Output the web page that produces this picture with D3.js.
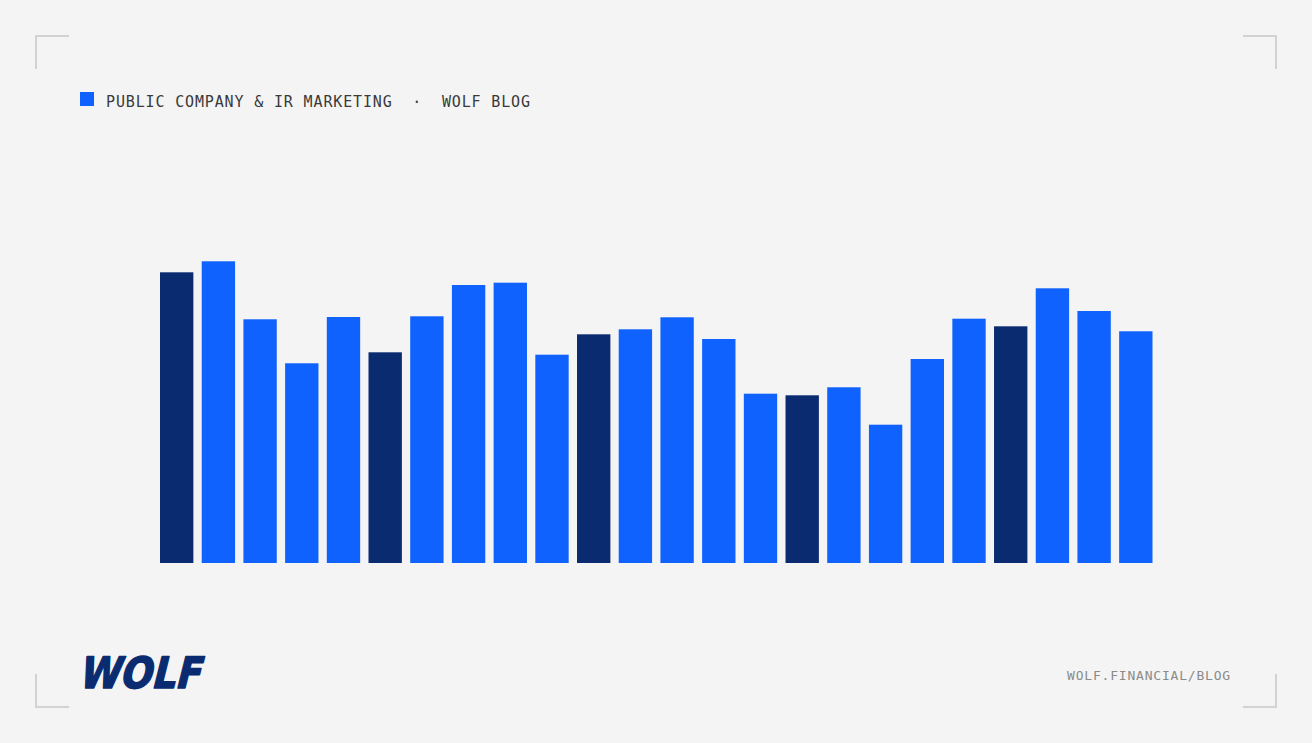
<!DOCTYPE html>
<html><head><meta charset="utf-8">
<script src="https://cdn.jsdelivr.net/npm/d3@7"></script>
<style>html,body{margin:0;padding:0;background:#f4f4f4;overflow:hidden}</style>
</head><body>
<svg id="c" width="1312" height="743"></svg>
<script>
const categories = d3.range(1, 25).map(i => "P" + i);
const values = [290.7, 301.7, 243.7, 199.7, 246.0, 210.7, 246.7, 278.0, 280.3, 208.3,
                228.7, 233.7, 245.7, 224.0, 169.3, 167.7, 175.7, 138.3, 204.0, 244.3,
                236.7, 274.7, 252.0, 231.7];
const highlighted = [true, false, false, false, false, true, false, false, false, false,
                     true, false, false, false, false, true, false, false, false, false,
                     true, false, false, false];
const headerText = "PUBLIC COMPANY & IR MARKETING  ·  WOLF BLOG";
const footerText = "WOLF.FINANCIAL/BLOG";
const logoText = "WOLF";

const svg = d3.select("#c");
svg.append("rect").attr("width", 1312).attr("height", 743).attr("fill", "#f4f4f4");

// corner brackets
const cornerColor = "#d2d2d2";
const corners = [
  {x: 36, y: 36, dx: 1, dy: 1},
  {x: 1276, y: 36, dx: -1, dy: 1},
  {x: 36, y: 707, dx: 1, dy: -1},
  {x: 1276, y: 707, dx: -1, dy: -1}
];
corners.forEach(c => {
  svg.append("path")
    .attr("d", `M${c.x + c.dx * 33},${c.y} L${c.x},${c.y} L${c.x},${c.y + c.dy * 33}`)
    .attr("fill", "none").attr("stroke", cornerColor).attr("stroke-width", 2);
});

// header
svg.append("rect").attr("x", 80).attr("y", 92).attr("width", 14).attr("height", 14).attr("fill", "#0f62fe");
svg.append("text").attr("x", 106).attr("y", 106.5)
  .attr("font-family", "DejaVu Sans Mono, monospace").attr("font-size", 15)
  .attr("letter-spacing", 0.85).attr("fill", "#3a3a3a")
  .attr("xml:space", "preserve").style("white-space", "pre")
  .text(headerText);

// bars
const x = d3.scaleBand().domain(categories).range([160, 1152.5]).paddingInner(0.2).paddingOuter(0);
const y = d3.scaleLinear().domain([0, 300]).range([563, 263]);
svg.append("g").selectAll("rect").data(values).join("rect")
  .attr("x", (d, i) => x(categories[i]))
  .attr("width", x.bandwidth())
  .attr("y", d => y(d))
  .attr("height", d => y(0) - y(d))
  .attr("fill", (d, i) => highlighted[i] ? "#0b2b70" : "#0f62fe");

// footer logo
svg.append("g").attr("transform", "translate(0,688) skewX(-14)")
  .append("text").attr("x", 78).attr("y", 0)
  .attr("font-family", "DejaVu Sans, sans-serif").attr("font-weight", 700)
  .attr("font-size", 43)
  .attr("textLength", 122).attr("lengthAdjust", "spacingAndGlyphs")
  .attr("fill", "#0b2b70").attr("stroke", "#0b2b70").attr("stroke-width", 1.6)
  .attr("stroke-linejoin", "round")
  .text(logoText);

svg.append("text").attr("x", 1231).attr("y", 679.5).attr("text-anchor", "end")
  .attr("font-family", "DejaVu Sans Mono, monospace").attr("font-size", 13)
  .attr("letter-spacing", 0.8).attr("fill", "#8a8a8a")
  .text(footerText);
</script>
</body></html>
